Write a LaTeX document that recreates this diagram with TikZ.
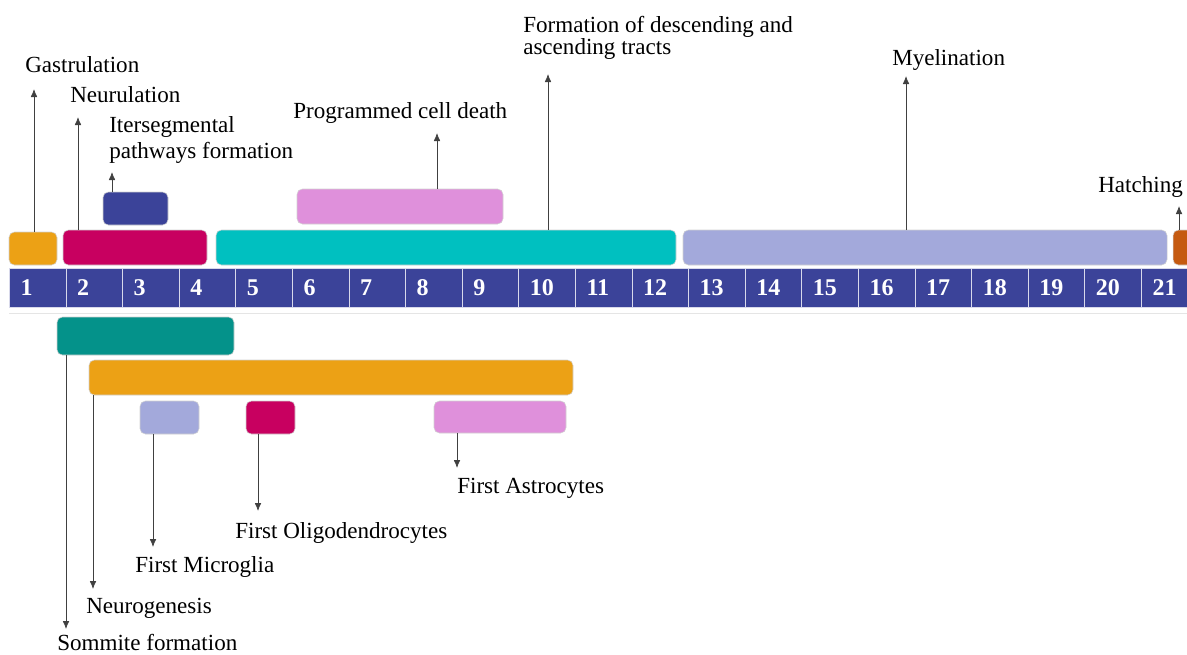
\documentclass[tikz,border=0pt]{standalone}
\usepackage{fontspec}
\setmainfont{Liberation Serif}
\usetikzlibrary{arrows.meta}

\newlength\pxu
\setlength\pxu{0.75pt}

\definecolor{dayblue}{HTML}{3B4399}
\definecolor{gastro}{HTML}{ECA115}
\definecolor{magen}{HTML}{C80060}
\definecolor{tealc}{HTML}{04928A}
\definecolor{cyanc}{HTML}{00C0C0}
\definecolor{lavend}{HTML}{A3A9DB}
\definecolor{pinkc}{HTML}{DF90DB}
\definecolor{hatchc}{HTML}{C55A11}

\tikzset{
  bar/.style={rounded corners=4pt, draw=black!18, line width=0.4pt, inner sep=0pt, outer sep=0pt, anchor=north west},
  lab/.style={anchor=base west, inner sep=0pt, font=\fontsize{17.3}{20}\selectfont},
  arr/.style={->, draw=black!75, line width=0.6pt},
  day/.style={anchor=north west, fill=dayblue, draw=white!80!dayblue, line width=0.8pt, text=white,
    font=\fontsize{18}{20}\selectfont\bfseries, inner xsep=11\pxu, text width=34.6\pxu, align=left,
    minimum height=39\pxu}
}

\begin{document}
\begin{tikzpicture}[x=0.75pt,y=-0.75pt,>={Latex[length=6pt,width=5pt]}]
\useasboundingbox (0,0) rectangle (1187,654);

% days 
\foreach \n in {1,...,21}
  \node[day] (d\n) at ({9+(\n-1)*56.6},268) {\n};
\draw[black!10] (d1.south west) ++(0,5) -- ++(1178,0);

% events above the days
\path
(9,232)     node[bar, fill=gastro, minimum width=48\pxu, minimum height=33\pxu]  (gas) {}
(63,230)    node[bar, fill=magen, minimum width=144\pxu, minimum height=35\pxu]  (neu) {}
(103,192)   node[bar, fill=dayblue, minimum width=65\pxu, minimum height=33\pxu] (its) {}
(297,189)   node[bar, fill=pinkc, minimum width=206\pxu, minimum height=35\pxu]  (pcd) {}
(216,230)   node[bar, fill=cyanc, minimum width=460\pxu, minimum height=35\pxu]  (trc) {}
(683,230)   node[bar, fill=lavend, minimum width=484\pxu, minimum height=35\pxu] (mye) {}
(1173,230)  node[bar, fill=hatchc, minimum width=30\pxu, minimum height=35\pxu]  (hat) {}
;

\path
(25,72)     node[lab]  (gaslab) {Gastrulation}
(70,102)    node[lab]  (neulab) {Neurulation}
(109,158)   node[lab, align=left, font=\fontsize{17.3}{19.5}\selectfont]  (itslab) {Itersegmental\\pathways formation}
(293,118)   node[lab]  (pcdlab) {Programmed cell death}
(523,54)    node[lab, align=left, font=\fontsize{17.3}{16.5}\selectfont]  (trclab) {Formation of descending and\\ascending tracts}
(892,65)    node[lab]  (myelab) {Myelination}
(1098,192)  node[lab]  (hatlab) {Hatching}
;

\coordinate (gastip) at (34,89);
\coordinate (neutip) at (78,117);
\coordinate (itstip) at (112,172);
\coordinate (pcdtip) at (437,133);
\coordinate (trctip) at (548,74);
\coordinate (myetip) at (906,76);
\coordinate (hattip) at (1179,206);

\draw[arr] (gas.north -| gastip) -- (gastip);
\draw[arr] (neu.north -| neutip) -- (neutip);
\draw[arr] (its.north -| itstip) -- (itstip);
\draw[arr] (pcd.north -| pcdtip) -- (pcdtip);
\draw[arr] (trc.north -| trctip) -- (trctip);
\draw[arr] (mye.north -| myetip) -- (myetip);
\draw[arr] (hat.north -| hattip) -- (hattip);

% events below the days
\path
(57,317)    node[bar, fill=tealc, minimum width=177\pxu, minimum height=38\pxu]  (som) {}
(89,360)    node[bar, fill=gastro, minimum width=484\pxu, minimum height=35\pxu] (ngn) {}
(140,401)   node[bar, fill=lavend, minimum width=59\pxu, minimum height=33\pxu]  (mic) {}
(246,401)   node[bar, fill=magen, minimum width=49\pxu, minimum height=33\pxu]   (oli) {}
(434,401)   node[bar, fill=pinkc, minimum width=132\pxu, minimum height=32\pxu]  (ast) {}
;

\path
(57,650)    node[lab]  (somlab) {Sommite formation}
(86,613)    node[lab]  (ngnlab) {Neurogenesis}
(135,572)   node[lab]  (miclab) {First Microglia}
(235,538)   node[lab]  (olilab) {First Oligodendrocytes}
(457,493)   node[lab]  (astlab) {First Astrocytes}
;

\coordinate (somtip) at (66,629);
\coordinate (ngntip) at (93,589);
\coordinate (mictip) at (153,547);
\coordinate (olitip) at (258,511);
\coordinate (asttip) at (457,468);

\draw[arr] (som.south -| somtip) -- (somtip);
\draw[arr] (ngn.south -| ngntip) -- (ngntip);
\draw[arr] (mic.south -| mictip) -- (mictip);
\draw[arr] (oli.south -| olitip) -- (olitip);
\draw[arr] (ast.south -| asttip) -- (asttip);

\end{tikzpicture}
\end{document}
